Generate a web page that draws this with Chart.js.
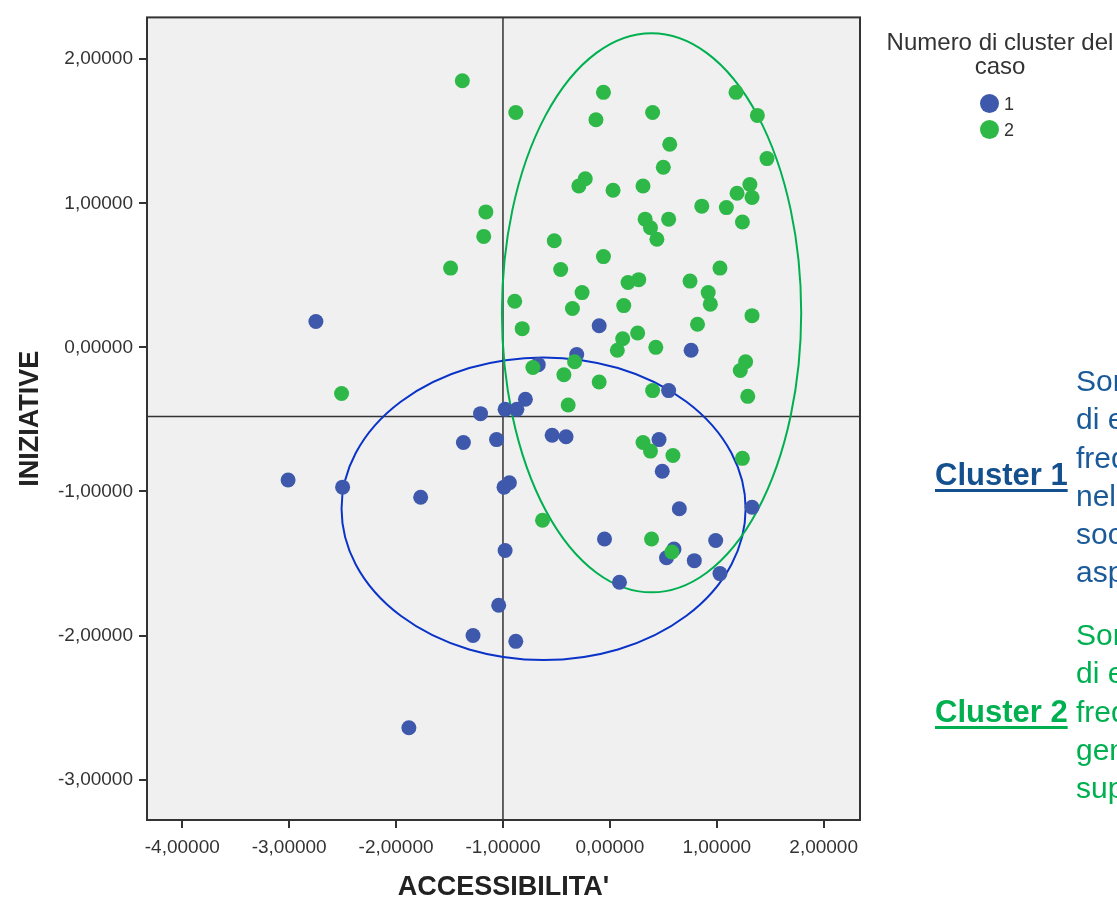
<!DOCTYPE html>
<html>
<head>
<meta charset="utf-8">
<script src="https://cdn.jsdelivr.net/npm/chart.js@4.4.1/dist/chart.umd.min.js"></script>
<style>
html, body { margin: 0; padding: 0; background: #fff; }
#wrap { position: relative; width: 1117px; height: 904px; overflow: hidden; font-family: "Liberation Sans", Arial, sans-serif; }
#myChart { position: absolute; left: 0; top: 0; }
#legend { position: absolute; left: 860px; top: 30px; width: 280px; color: #333; }
#legend .title { font-size: 24px; line-height: 24px; text-align: center; }
#legend .item { position: relative; height: 26px; font-size: 18px; line-height: 26px; }
#legend .dot { position: absolute; left: 120px; top: 6px; width: 19px; height: 19px; border-radius: 50%; }
#legend .lab { position: absolute; left: 144px; top: 3px; }
.note { position: absolute; left: 1076px; font-size: 30px; line-height: 38.3px; white-space: nowrap; }
.head { position: absolute; left: 935px; font-size: 31px; font-weight: bold; line-height: 36px; text-decoration: underline; text-decoration-thickness: 3px; text-underline-offset: 4px; white-space: nowrap; }
</style>
</head>
<body>
<div id="wrap">
  <canvas id="myChart" width="1117" height="904"></canvas>
  <div id="legend"></div>
  <div class="head" style="top:457px;color:#14508e;">Cluster 1</div>
  <div class="note" style="top:362px;color:#1b5a98;">Sono<br>di e<br>freq<br>nell<br>soci<br>aspe</div>
  <div class="head" style="top:694px;color:#00b050;">Cluster 2</div>
  <div class="note" style="top:616px;color:#00b050;">Sono<br>di e<br>freq<br>gene<br>supe</div>
</div>
<script>
// valori
const xTicks = [-4, -3, -2, -1, 0, 1, 2];
const yTicks = [2, 1, 0, -1, -2, -3];

const cluster1X = [-2.75, -0.10, 0.76, -0.31, -0.67, 0.55, -0.79, -0.87, -0.98, -1.21,
  -1.37, -1.06, -0.54, -0.41, 0.46, 0.49, -3.01, -2.50, -1.77, -0.99,
  -0.94, 0.65, 1.33, -0.98, -0.05, 0.99, 0.60, 0.53, 0.79, 1.03,
  0.09, -1.04, -1.28, -0.88, -1.88];
const cluster1Y = [0.18, 0.15, -0.02, -0.05, -0.12, -0.30, -0.36, -0.43, -0.43, -0.46,
  -0.66, -0.64, -0.61, -0.62, -0.64, -0.86, -0.92, -0.97, -1.04, -0.97,
  -0.94, -1.12, -1.11, -1.41, -1.33, -1.34, -1.40, -1.46, -1.48, -1.57,
  -1.63, -1.79, -2.00, -2.04, -2.64];

const cluster2X = [-1.38, -1.16, -1.18, -1.49, -0.88, -0.06, -0.13, 0.40, 1.18, 1.38,
  0.56, 1.47, 0.50, -0.23, -0.29, 0.03, 0.31, 1.31, 1.19, 1.33,
  0.86, 1.09, 1.24, 0.33, 0.55, 0.38, 0.44, -0.52, -0.06, -0.46,
  0.17, 0.27, 0.75, 1.03, -0.26, 0.92, 0.94, -0.89, -0.35, 0.13,
  1.33, -0.82, 0.82, 0.12, 0.26, 0.07, 0.43, 1.27, 1.22, 1.29,
  -0.33, -0.72, -0.43, -0.10, 0.40, -0.39, 0.31, 0.38, 0.59, 1.24,
  -0.63, 0.39, 0.58, -2.51];
const cluster2Y = [1.85, 0.94, 0.77, 0.55, 1.63, 1.77, 1.58, 1.63, 1.77, 1.61,
  1.41, 1.31, 1.25, 1.17, 1.12, 1.09, 1.12, 1.13, 1.07, 1.04,
  0.98, 0.97, 0.87, 0.89, 0.89, 0.83, 0.75, 0.74, 0.63, 0.54,
  0.45, 0.47, 0.46, 0.55, 0.38, 0.38, 0.30, 0.32, 0.27, 0.29,
  0.22, 0.13, 0.16, 0.06, 0.10, -0.02, 0.00, -0.10, -0.16, -0.34,
  -0.10, -0.14, -0.19, -0.24, -0.30, -0.40, -0.66, -0.72, -0.75, -0.77,
  -1.20, -1.33, -1.42, -0.32];

// ellissi: centro x, centro y, semiasse x, semiasse y
const ellipse1 = [-0.62, -1.12, 1.89, 1.05];
const ellipse2 = [0.39, 0.24, 1.40, 1.94];
const refLineX = -1.0;
const refLineY = -0.48;

const blue = "#3e58ac";
const green = "#2eb848";

function fmt(v) {
    return v.toFixed(5).replace(".", ",");
}

const plotDecor = {
    id: "plotDecor",
    beforeDatasetsDraw(chart) {
        const { ctx, chartArea: a, scales: { x, y } } = chart;
        ctx.save();
        ctx.fillStyle = "#f0f0f0";
        ctx.fillRect(a.left, a.top, a.right - a.left, a.bottom - a.top);

        ctx.strokeStyle = "#333";
        ctx.lineWidth = 1.5;
        ctx.beginPath();
        const px = x.getPixelForValue(refLineX);
        const py = y.getPixelForValue(refLineY);
        ctx.moveTo(px, a.top);
        ctx.lineTo(px, a.bottom);
        ctx.moveTo(a.left, py);
        ctx.lineTo(a.right, py);
        ctx.stroke();

        [[ellipse1, "#0a33c8"], [ellipse2, "#00b050"]].forEach(function (e) {
            const p = e[0];
            const cx = x.getPixelForValue(p[0]);
            const cy = y.getPixelForValue(p[1]);
            const rx = Math.abs(x.getPixelForValue(p[0] + p[2]) - cx);
            const ry = Math.abs(y.getPixelForValue(p[1] + p[3]) - cy);
            ctx.strokeStyle = e[1];
            ctx.lineWidth = 2;
            ctx.beginPath();
            ctx.ellipse(cx, cy, rx, ry, 0, 0, Math.PI * 2);
            ctx.stroke();
        });
        ctx.restore();
    },
    afterDraw(chart) {
        const { ctx, chartArea: a } = chart;
        ctx.save();
        ctx.strokeStyle = "#333";
        ctx.lineWidth = 2;
        ctx.strokeRect(a.left, a.top, a.right - a.left, a.bottom - a.top);
        ctx.restore();
    }
};

const tickFont = { family: "'Liberation Sans', Arial, sans-serif", size: 19 };
const titleFont = { family: "'Liberation Sans Narrow', 'Arial Narrow', 'Liberation Sans', Arial, sans-serif", size: 27, weight: "bold", lineHeight: 1.2 };

const ctx = document.getElementById("myChart").getContext("2d");
const myChart = new Chart(ctx, {
    type: "scatter",
    data: {
        datasets: [
            {
                label: "1",
                data: cluster1X.map((v, i) => ({ x: v, y: cluster1Y[i] })),
                backgroundColor: blue,
                borderWidth: 0,
                pointRadius: 7.5,
                order: 1,
            },
            {
                label: "2",
                data: cluster2X.map((v, i) => ({ x: v, y: cluster2Y[i] })),
                backgroundColor: green,
                borderWidth: 0,
                pointRadius: 7.5,
                order: 0,
            },
        ],
    },
    options: {
        responsive: false,
        animation: false,
        devicePixelRatio: 1,
        layout: { padding: { left: 0, top: 13, right: 257, bottom: 0 } },
        scales: {
            x: {
                type: "linear",
                position: "bottom",
                min: -4.33,
                max: 2.34,
                afterBuildTicks: function (scale) {
                    scale.ticks = xTicks.map((v) => ({ value: v }));
                },
                afterFit: function (scale) {
                    scale.height = 84;
                },
                ticks: {
                    color: "#333",
                    font: tickFont,
                    padding: 8,
                    maxRotation: 0,
                    autoSkip: false,
                    callback: fmt,
                },
                grid: {
                    drawOnChartArea: false,
                    drawTicks: true,
                    tickLength: 8,
                    color: "#333",
                    lineWidth: 2,
                },
                border: { display: false },
                title: {
                    display: true,
                    text: "ACCESSIBILITA'",
                    color: "#222",
                    font: titleFont,
                    padding: { top: 0, bottom: 0 },
                },
            },
            y: {
                type: "linear",
                position: "left",
                min: -3.28,
                max: 2.29,
                afterBuildTicks: function (scale) {
                    scale.ticks = yTicks.map((v) => ({ value: v }));
                },
                afterFit: function (scale) {
                    scale.width = 147;
                },
                ticks: {
                    color: "#333",
                    font: tickFont,
                    padding: 6,
                    autoSkip: false,
                    callback: fmt,
                },
                grid: {
                    drawOnChartArea: false,
                    drawTicks: true,
                    tickLength: 8,
                    color: "#333",
                    lineWidth: 2,
                },
                border: { display: false },
                title: {
                    display: true,
                    text: "INIZIATIVE",
                    color: "#222",
                    font: titleFont,
                    padding: { top: 14, bottom: 0 },
                },
            },
        },
        plugins: {
            legend: { display: false },
            tooltip: { enabled: false },
        },
    },
    plugins: [plotDecor],
});

// legenda HTML costruita dai dataset
const legend = document.getElementById("legend");
let html = '<div class="title">Numero di cluster del<br>caso</div><div style="height:10px"></div>';
myChart.data.datasets.forEach(function (ds) {
    html += '<div class="item"><span class="dot" style="background:' + ds.backgroundColor +
        '"></span><span class="lab">' + ds.label + "</span></div>";
});
legend.innerHTML = html;
</script>
</body>
</html>
